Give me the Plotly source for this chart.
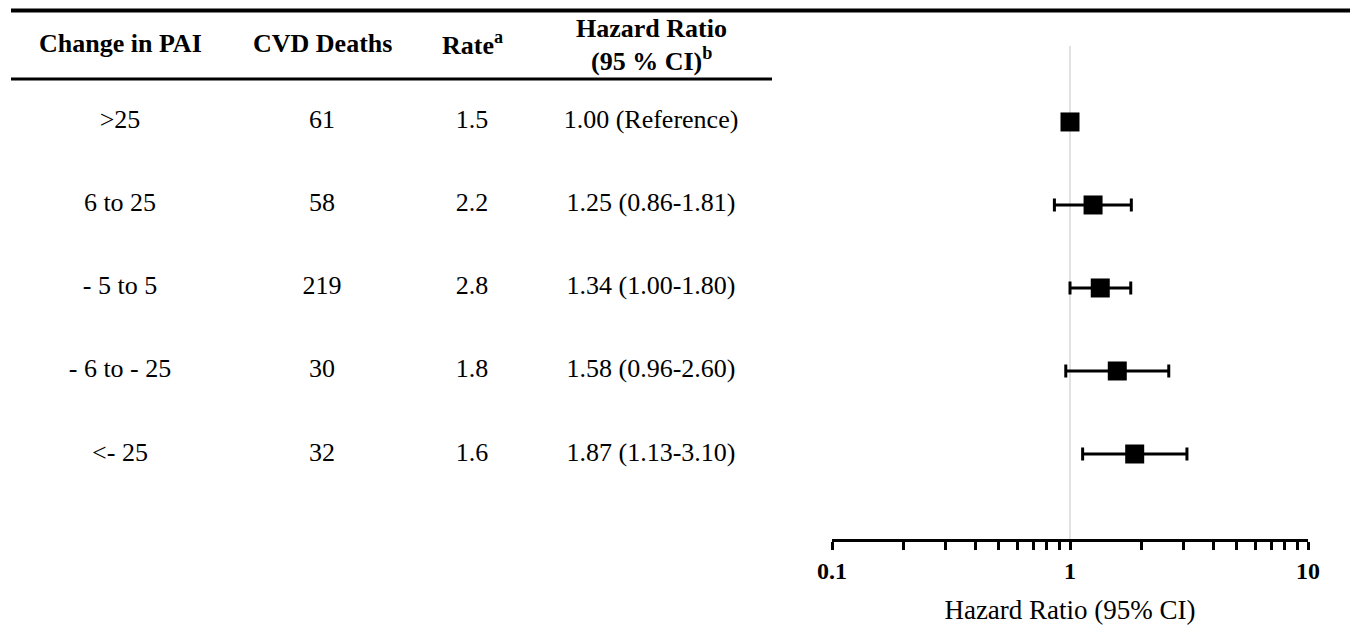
import plotly.graph_objects as go

# ---------------- data ----------------
categories = [">25", "6 to 25", "- 5 to 5", "- 6 to - 25", "<- 25"]
cvd_deaths = [61, 58, 219, 30, 32]
rates = [1.5, 2.2, 2.8, 1.8, 1.6]
hazard_ratio = [1.00, 1.25, 1.34, 1.58, 1.87]
ci_low = [1.00, 0.86, 1.00, 0.96, 1.13]
ci_high = [1.00, 1.81, 1.80, 2.60, 3.10]
reference_flag = [True, False, False, False, False]

headers = ["Change in PAI", "CVD Deaths", "Rate<sup>a</sup>", "Hazard Ratio<br>(95 % CI)<sup>b</sup>"]
x_tick_vals = [0.1, 0.2, 0.3, 0.4, 0.5, 0.6, 0.7, 0.8, 0.9,
               1, 2, 3, 4, 5, 6, 7, 8, 9, 10]
x_tick_text = ["0.1", "", "", "", "", "", "", "", "",
               "1", "", "", "", "", "", "", "", "", "10"]
x_title = "Hazard Ratio (95% CI)"

# ---------------- styles ----------------
# the page body has an 8px margin, so the figure is drawn 8px in from the corner
W, H = 1350, 624
FONT = "Liberation Serif"
ROW_SIZE = 26
HEAD_SIZE = 26
col_x = [112, 314, 464, 643]          # pixel centres of table columns
table_frac = 0.6
Y_TOP = -1.373
Y_BOT = 5.024

def esc(s):
    return str(s).replace("<", "&lt;")

hr_text = []
for h, lo, hi, ref in zip(hazard_ratio, ci_low, ci_high, reference_flag):
    if ref:
        hr_text.append(f"{h:.2f} (Reference)")
    else:
        hr_text.append(f"{h:.2f} ({lo:.2f}-{hi:.2f})")

columns = [
    [esc(c) for c in categories],
    [str(d) for d in cvd_deaths],
    [f"{r:.1f}" for r in rates],
    hr_text,
]

fig = go.Figure()

# table text
for cx, vals in zip(col_x, columns):
    fig.add_trace(go.Scatter(
        x=[cx] * len(categories), y=categories, text=vals,
        mode="text", textposition="middle center",
        textfont=dict(family=FONT, size=ROW_SIZE, color="black"),
        xaxis="x2", yaxis="y", showlegend=False, hoverinfo="skip",
    ))

# forest plot
fig.add_trace(go.Scatter(
    x=hazard_ratio, y=categories, mode="markers",
    marker=dict(symbol="square", size=19, color="black"),
    error_x=dict(type="data", symmetric=False,
                 array=[hi - h for h, hi in zip(hazard_ratio, ci_high)],
                 arrayminus=[h - lo for h, lo in zip(hazard_ratio, ci_low)],
                 color="black", thickness=3, width=6.5),
    xaxis="x", yaxis="y", showlegend=False,
))

# headers (multi-line headers are set line by line)
HEAD_Y = -0.94
LINE_GAP = 0.37
for cx, htxt in zip(col_x, headers):
    lines = htxt.split("<br>")
    n = len(lines)
    for i, ln in enumerate(lines):
        yy = HEAD_Y + (i - (n - 1) / 2) * LINE_GAP
        fig.add_annotation(
            x=cx, y=yy, xref="x2", yref="y", text=f"<b>{ln}</b>",
            showarrow=False, font=dict(family=FONT, size=HEAD_SIZE, color="black"),
            xanchor="center", yanchor="middle",
        )

shapes = [
    # top rule
    dict(type="line", xref="paper", yref="y", x0=3 / W, x1=1.0, y0=-1.343, y1=-1.343,
         line=dict(color="black", width=4)),
    # header rule
    dict(type="line", xref="paper", yref="y", x0=3 / W, x1=764 / W, y0=-0.518, y1=-0.518,
         line=dict(color="black", width=3)),
    # reference line at HR=1
    dict(type="line", xref="x", yref="y", x0=1, x1=1, y0=-0.916, y1=Y_BOT,
         line=dict(color="#d9d9d9", width=1.5), layer="below"),
]

fig.update_layout(
    width=W, height=H,
    margin=dict(l=0, r=0, t=0, b=93, autoexpand=False),
    paper_bgcolor="white", plot_bgcolor="white",
    shapes=shapes,
    xaxis=dict(
        type="log", domain=[824 / W, 1300 / W], range=[-1, 1],
        tickmode="array", tickvals=x_tick_vals, ticktext=x_tick_text,
        ticks="outside", ticklen=8, tickwidth=2.5, tickcolor="black",
        showline=True, linecolor="black", linewidth=3,
        showgrid=False, zeroline=False,
        tickfont=dict(family=FONT, size=24, color="black", weight="bold"),
        title=dict(text=x_title, font=dict(family=FONT, size=27, color="black"), standoff=18),
        anchor="y", fixedrange=True,
    ),
    xaxis2=dict(domain=[0, table_frac], range=[0, table_frac * W], visible=False, anchor="y"),
    yaxis=dict(type="category", categoryarray=categories, range=[Y_BOT, Y_TOP],
               visible=False, showgrid=False, zeroline=False),
)

fig.write_html("out.html")
